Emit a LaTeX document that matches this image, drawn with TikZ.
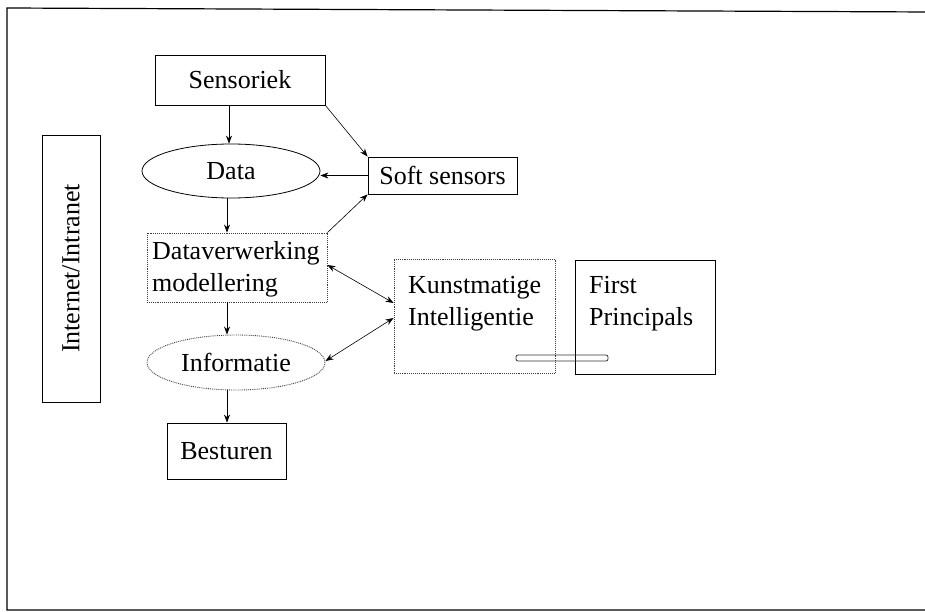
\documentclass[tikz,border=0pt]{standalone}
\usepackage{fontspec}
\setmainfont{Liberation Serif}
\usetikzlibrary{shapes.geometric,arrows.meta}
\begin{document}
\begin{tikzpicture}[x=1pt,y=-1pt,
  every node/.style={inner sep=0pt,font=\fontsize{26}{32}\selectfont},
  solidbox/.style={draw=black,line width=0.8pt,rectangle},
  dotbox/.style={draw=black!75,line width=0.9pt,densely dotted,rectangle},
  oval/.style={draw=black,line width=0.8pt,ellipse},
  dotoval/.style={draw=black!75,line width=0.9pt,densely dotted,ellipse},
  arr/.style={line width=0.6pt,-{Stealth[length=8pt,width=6pt]}},
  darr/.style={line width=0.6pt,{Stealth[length=8pt,width=6pt]}-{Stealth[length=8pt,width=6pt]}}]
\useasboundingbox (0,0) rectangle (925,612);
% page frame (right edge lies outside the page)
\draw[line width=1.2pt] (930,12) -- (7,8) -- (7,610) -- (930,610);
% side bar
\node[solidbox,minimum width=58pt,minimum height=267pt] (net) at (71,268.5) {};
\node[rotate=90] (nettext) at (net.center) {Internet/Intranet};
% main chain
\node[solidbox,minimum width=170pt,minimum height=50pt] (sens) at (240,80) {Sensoriek};
\node[oval,minimum width=178pt,minimum height=54pt] (data) at (231,171) {Data};
\node[solidbox,minimum width=149pt,minimum height=37pt] (soft) at (442.5,175.5) {Soft sensors};
\node[dotbox,minimum width=180pt,minimum height=69pt] (dv) at (237,267.5) {};
\node[anchor=west,align=left] (dvtext) at (152,269) {Dataverwerking\\modellering};
\node[dotoval,minimum width=178pt,minimum height=55pt] (info) at (236,362.5) {Informatie};
\node[solidbox,minimum width=119pt,minimum height=56pt] (best) at (226.5,451) {Besturen};
% knowledge boxes
\node[dotbox,minimum width=161pt,minimum height=114pt] (ki) at (474.5,316) {};
\node[anchor=north west,align=left] (kitext) at (408,276) {Kunstmatige\\Intelligentie};
\node[solidbox,minimum width=140pt,minimum height=114pt] (fp) at (645,317) {};
\node[anchor=north west,align=left] (fptext) at (589,276) {First\\Principals};
\draw[black!80,line width=0.8pt,rounded corners=2pt] (516,355) rectangle (608,361);
% connectors
\draw[arr] (sens.south -| 229,0) -- (data.north -| 229,0);
\draw[arr] (sens.south east) -- (soft.north west);
\draw[arr] (soft.west) -- (data.east |- soft.west);
\draw[arr] (data.south -| 227,0) -- (dv.north -| 227,0);
\draw[arr] (dv.north east) -- (soft.south west);
\draw[darr] (dv.east |- 0,265) -- (ki.west |- 0,303);
\draw[arr] (dv.south -| 227,0) -- (info.north -| 227,0);
\draw[darr] (info.east |- 0,361) -- (ki.west |- 0,318);
\draw[arr] (info.south -| 227,0) -- (best.north -| 227,0);
\end{tikzpicture}
\end{document}
